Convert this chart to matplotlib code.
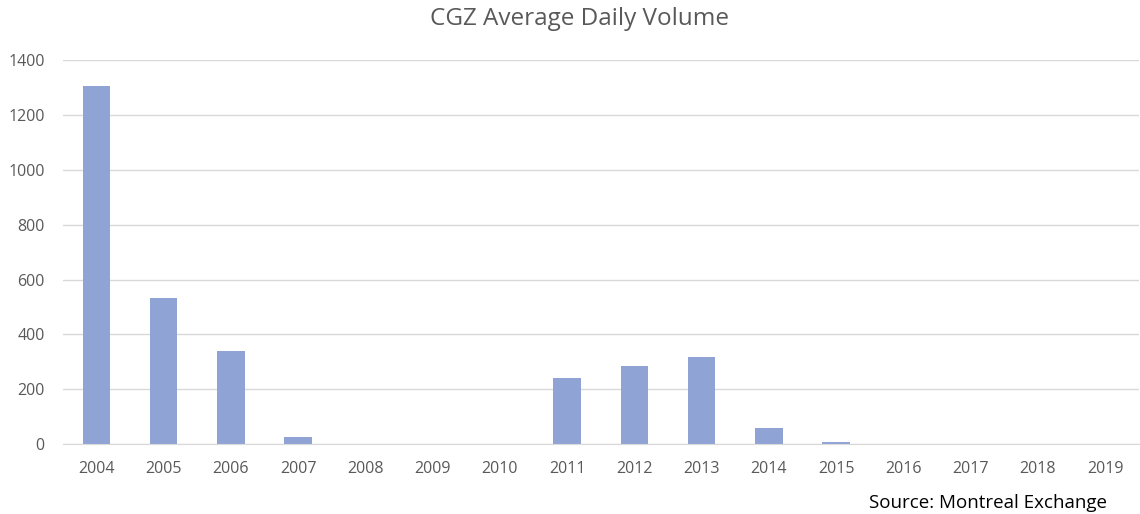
import matplotlib.pyplot as plt

# Data
years = [str(y) for y in range(2004, 2020)]
volume = [1305, 532, 339, 25, 0, 0, 0, 241, 284, 317, 58, 8, 0, 0, 0, 0]

plt.rcParams["font.family"] = ["Open Sans", "DejaVu Sans"]

fig = plt.figure(figsize=(11.4, 5.14), dpi=100)
ax = fig.add_axes([0.055, 0.136, 0.944, 0.747])

ax.bar(range(len(years)), volume, width=0.41, color="#8FA4D5", zorder=3)

ax.set_xlim(-0.5, len(years) - 0.5)
ax.set_ylim(0, 1400)
ax.set_yticks(range(0, 1401, 200))
ax.set_xticks(range(len(years)))
ax.set_xticklabels(years)
ax.tick_params(axis="both", length=0, labelsize=11.5, colors="#595959")
ax.tick_params(axis="x", pad=12)
ax.tick_params(axis="y", pad=13)
ax.grid(axis="y", color="#D9D9D9", linewidth=1, zorder=0)

for s in ["top", "right", "left"]:
    ax.spines[s].set_visible(False)
ax.spines["bottom"].set_color("#D9D9D9")
ax.spines["bottom"].set_zorder(4)

fig.text(0.508, 0.963, "CGZ Average Daily Volume", ha="center", va="center",
         fontsize=17.5, color="#595959")
fig.text(0.971, 0.022, "Source: Montreal Exchange", ha="right", va="center",
         fontsize=13.5, color="black")

fig.savefig("out.png")
